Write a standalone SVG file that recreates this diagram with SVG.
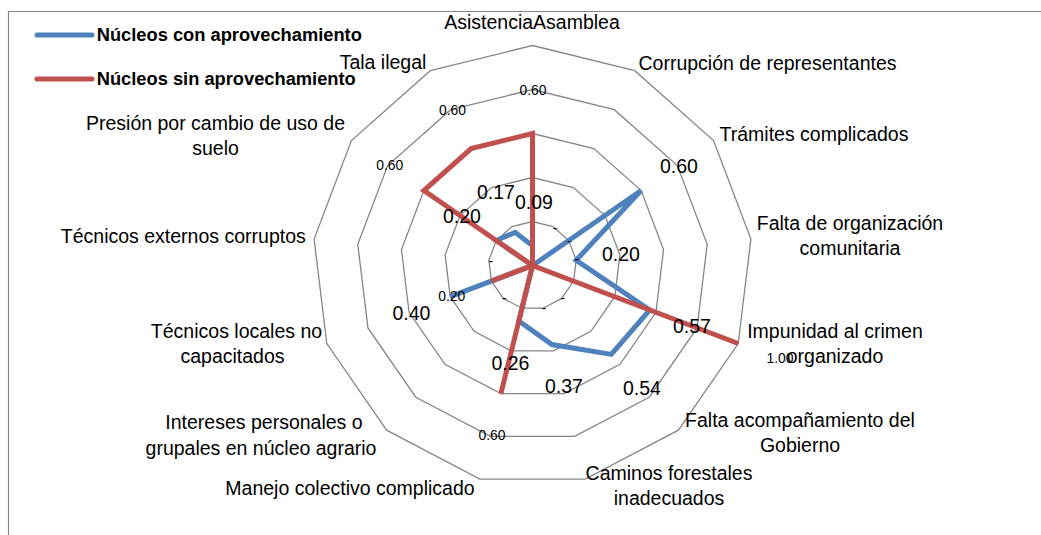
<svg xmlns="http://www.w3.org/2000/svg" width="1041" height="535" viewBox="0 0 1041 535">
<style>
.bg{fill:#ffffff}
.frame{fill:none;stroke:#868686;stroke-width:1.2}
.ring{fill:none;stroke:#868686;stroke-width:1.3;stroke-linejoin:miter}
.s1{fill:none;stroke:#4F81BD;stroke-width:5;stroke-linejoin:miter}
.s2{fill:none;stroke:#C0504D;stroke-width:5;stroke-linejoin:miter}
.cat{font-family:'Liberation Sans',Arial,sans-serif;font-size:19.5px;fill:#000;text-anchor:middle}
.big{font-family:'Liberation Sans',Arial,sans-serif;font-size:19.5px;fill:#000;text-anchor:middle}
.sm{font-family:'Liberation Sans',Arial,sans-serif;font-size:13.9px;fill:#000;text-anchor:middle}
.leg{font-family:'Liberation Sans',Arial,sans-serif;font-size:18.3px;font-weight:bold;fill:#000}
</style>
<rect class="bg" x="0" y="0" width="1041" height="535"/>
<path class="frame" d="M8.5,535 V11.5 H1041"/>
<g id="grid">
<polygon class="ring" points="532.5,221.5 552.95,226.54 568.71,240.51 576.18,260.2 573.64,281.1 561.68,298.43 543.03,308.22 521.97,308.22 503.32,298.43 491.36,281.1 488.82,260.2 496.29,240.51 512.05,226.54"/>
<polygon class="ring" points="532.5,177.5 573.4,187.58 604.92,215.51 619.86,254.89 614.78,296.7 590.85,331.37 553.56,350.94 511.44,350.94 474.15,331.37 450.22,296.7 445.14,254.89 460.08,215.51 491.6,187.58"/>
<polygon class="ring" points="532.5,133.5 593.84,148.62 641.13,190.52 663.54,249.59 655.92,312.31 620.03,364.3 564.09,393.66 500.91,393.66 444.97,364.3 409.08,312.31 401.46,249.59 423.87,190.52 471.16,148.62"/>
<polygon class="ring" points="532.5,89.5 614.29,109.66 677.34,165.52 707.22,244.28 697.06,327.91 649.21,397.24 574.62,436.39 490.38,436.39 415.79,397.24 367.94,327.91 357.78,244.28 387.66,165.52 450.71,109.66"/>
<polygon class="ring" points="532.5,45.5 634.74,70.7 713.56,140.53 750.9,238.98 738.2,343.51 678.39,430.17 585.15,479.11 479.85,479.11 386.61,430.17 326.8,343.51 314.1,238.98 351.44,140.53 430.26,70.7"/>
</g>
<g id="series">
<polygon id="serie-con" class="s1" points="532.5,245.7 532.5,265.5 641.13,190.52 576.18,260.2 649.75,309.97 611.28,354.42 551.98,344.53 518.81,321.04 532.5,265.5 450.22,296.7 532.5,265.5 496.29,240.51 515.12,232.38"/>
<polygon id="serie-sin" class="s2" points="532.5,133.5 532.5,265.5 532.5,265.5 532.5,265.5 738.2,343.51 532.5,265.5 532.5,265.5 500.91,393.66 532.5,265.5 491.36,281.1 532.5,265.5 423.87,190.52 471.16,148.62"/>
</g>
<g id="categories">
<text class="cat" x="532" y="29">AsistenciaAsamblea</text>
<text class="cat" x="767.5" y="70">Corrupción de representantes</text>
<text class="cat" x="814" y="141">Trámites complicados</text>
<text class="cat" x="850" y="230">Falta de organización</text>
<text class="cat" x="850" y="255">comunitaria</text>
<text class="cat" x="835" y="338">Impunidad al crimen</text>
<text class="cat" x="835" y="363">organizado</text>
<text class="cat" x="800" y="427">Falta acompañamiento del</text>
<text class="cat" x="800" y="452">Gobierno</text>
<text class="cat" x="669" y="480">Caminos forestales</text>
<text class="cat" x="669" y="505">inadecuados</text>
<text class="cat" x="350" y="495">Manejo colectivo complicado</text>
<text class="cat" x="264" y="429">Intereses personales o</text>
<text class="cat" x="261" y="455">grupales en núcleo agrario</text>
<text class="cat" x="236.5" y="338">Técnicos locales no</text>
<text class="cat" x="232.5" y="363">capacitados</text>
<text class="cat" x="183.3" y="243">Técnicos externos corruptos</text>
<text class="cat" x="215.5" y="130">Presión por cambio de uso de</text>
<text class="cat" x="215.5" y="155">suelo</text>
<text class="cat" x="383" y="69">Tala ilegal</text>
</g>
<g id="labels-con">
<text class="big" x="534" y="209">0.09</text>
<text class="big" x="496" y="199">0.17</text>
<text class="big" x="462" y="222.5">0.20</text>
<text class="big" x="621" y="261">0.20</text>
<text class="big" x="679" y="173">0.60</text>
<text class="big" x="692" y="333">0.57</text>
<text class="big" x="642" y="395">0.54</text>
<text class="big" x="564" y="393">0.37</text>
<text class="big" x="510.5" y="370">0.26</text>
<text class="big" x="411.5" y="320">0.40</text>
</g>
<g id="labels-sin">
<text class="sm" x="533" y="95">0.60</text>
<text class="sm" x="452.5" y="115">0.60</text>
<text class="sm" x="389.7" y="170">0.60</text>
<text class="sm" x="451.7" y="300.5">0.20</text>
<text class="sm" x="780" y="363">1.00</text>
<text class="sm" x="492" y="440">0.60</text>
<text class="sm" x="555" y="232.5">-</text>
<text class="sm" x="569.3" y="246">-</text>
<text class="sm" x="576.7" y="264.3">-</text>
<text class="sm" x="562.7" y="303.3">-</text>
<text class="sm" x="544" y="313.3">-</text>
<text class="sm" x="504.3" y="303.3">-</text>
<text class="sm" x="490.7" y="266">-</text>
</g>
<g id="legend">
<line x1="37" y1="35" x2="92" y2="35" stroke="#4F81BD" stroke-width="5" stroke-linecap="round"/>
<text class="leg" x="96.7" y="41">Núcleos con aprovechamiento</text>
<line x1="37" y1="79" x2="92" y2="79" stroke="#C0504D" stroke-width="5" stroke-linecap="round"/>
<text class="leg" x="96.7" y="85">Núcleos sin aprovechamiento</text>
</g>
</svg>
